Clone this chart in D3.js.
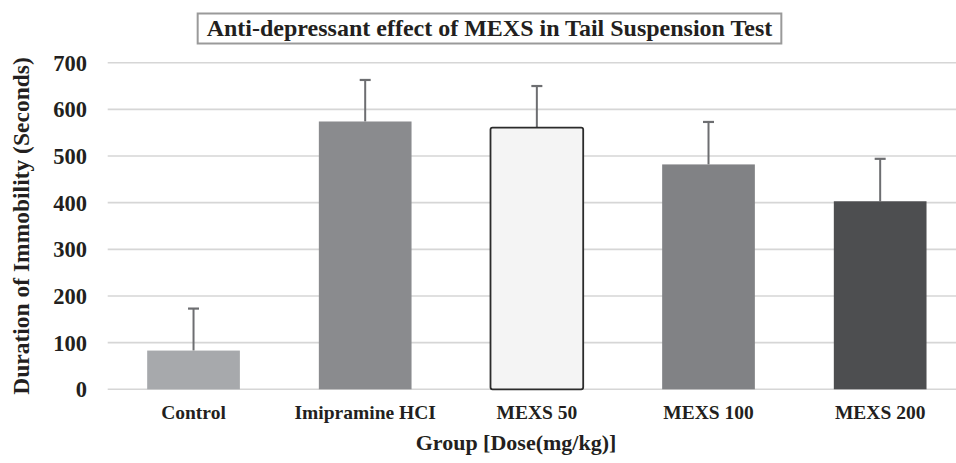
<!DOCTYPE html>
<html>
<head>
<meta charset="utf-8">
<script src="https://cdn.jsdelivr.net/npm/d3@7"></script>
<style>
  html, body { margin: 0; padding: 0; background: #fff; }
  svg { display: block; }
  text { font-family: "Liberation Serif", "Times New Roman", serif; font-weight: bold; fill: #231f20; }
</style>
</head>
<body>
<svg id="chart" width="956" height="463"></svg>
<script>
// Tail suspension test: mean immobility time per group with SD error bars
const groups = ["Control", "Imipramine HCI", "MEXS 50", "MEXS 100", "MEXS 200"];
const meanImmobility = [83, 574, 561, 482, 403];
const sdImmobility = [90, 89, 89, 91, 91];
const barFills = ["#a7a9ac", "#8a8b8e", "#f4f4f4", "#818285", "#4d4e50"];
const barStrokes = ["none", "none", "#2b2b2b", "none", "none"];
const yTicks = [0, 100, 200, 300, 400, 500, 600, 700];

const svg = d3.select("#chart");
const plotLeft = 107.7, plotRight = 966, plotTop = 62.7, plotBottom = 389.3;

const x = d3.scaleBand().domain(groups).range([plotLeft, plotRight])
  .paddingInner(0.46).paddingOuter(0.23);
const y = d3.scaleLinear().domain([0, 700]).range([plotBottom, plotTop]);

// Boxed chart title (frame drawn first, sized to the text afterwards)
const titleBox = svg.append("rect")
  .attr("fill", "#fff").attr("stroke", "#9a9a9a").attr("stroke-width", 2);
const title = svg.append("text").attr("x", 489.5).attr("y", 36)
  .attr("text-anchor", "middle").attr("font-size", 24)
  .text("Anti-depressant effect of MEXS in Tail Suspension Test");
const bb = title.node().getBBox();
titleBox.attr("x", bb.x - 9).attr("y", 13.5)
  .attr("width", bb.width + 18).attr("height", 30);

// Horizontal gridlines
svg.append("g").selectAll("line").data(yTicks).join("line")
  .attr("x1", plotLeft).attr("x2", plotRight)
  .attr("y1", d => y(d)).attr("y2", d => y(d))
  .attr("stroke", "#d6d6d6").attr("stroke-width", 1.6);

// Y tick labels
svg.append("g").selectAll("text").data(yTicks).join("text")
  .attr("x", 87).attr("y", d => y(d))
  .attr("dy", "0.35em").attr("text-anchor", "end")
  .attr("font-size", 22.5).text(d => d);

// Error bars (upper half only), drawn beneath the bars
const err = svg.append("g");
groups.forEach((g, i) => {
  const cx = x(g) + x.bandwidth() / 2;
  const yTop = y(meanImmobility[i] + sdImmobility[i]);
  err.append("line").attr("x1", cx).attr("x2", cx)
    .attr("y1", y(meanImmobility[i])).attr("y2", yTop)
    .attr("stroke", "#6d6e71").attr("stroke-width", 2);
  err.append("line").attr("x1", cx - 5.5).attr("x2", cx + 5.5)
    .attr("y1", yTop).attr("y2", yTop)
    .attr("stroke", "#6d6e71").attr("stroke-width", 2.2);
});

// Bars
svg.append("g").selectAll("rect").data(groups).join("rect")
  .attr("x", d => x(d)).attr("width", x.bandwidth())
  .attr("y", (d, i) => y(meanImmobility[i]))
  .attr("height", (d, i) => plotBottom - y(meanImmobility[i]))
  .attr("rx", (d, i) => barStrokes[i] === "none" ? 0 : 2)
  .attr("fill", (d, i) => barFills[i])
  .attr("stroke", (d, i) => barStrokes[i])
  .attr("stroke-width", 1.8);

// Category labels
svg.append("g").selectAll("text").data(groups).join("text")
  .attr("x", d => x(d) + x.bandwidth() / 2).attr("y", 419)
  .attr("text-anchor", "middle").attr("font-size", 19.5)
  .text(d => d);

// Axis titles
svg.append("text").attr("x", 516).attr("y", 450)
  .attr("text-anchor", "middle").attr("font-size", 22)
  .text("Group [Dose(mg/kg)]");

svg.append("text")
  .attr("transform", "translate(29,226) rotate(-90)")
  .attr("text-anchor", "middle").attr("font-size", 23.5)
  .text("Duration of Immobility (Seconds)");
</script>
</body>
</html>
